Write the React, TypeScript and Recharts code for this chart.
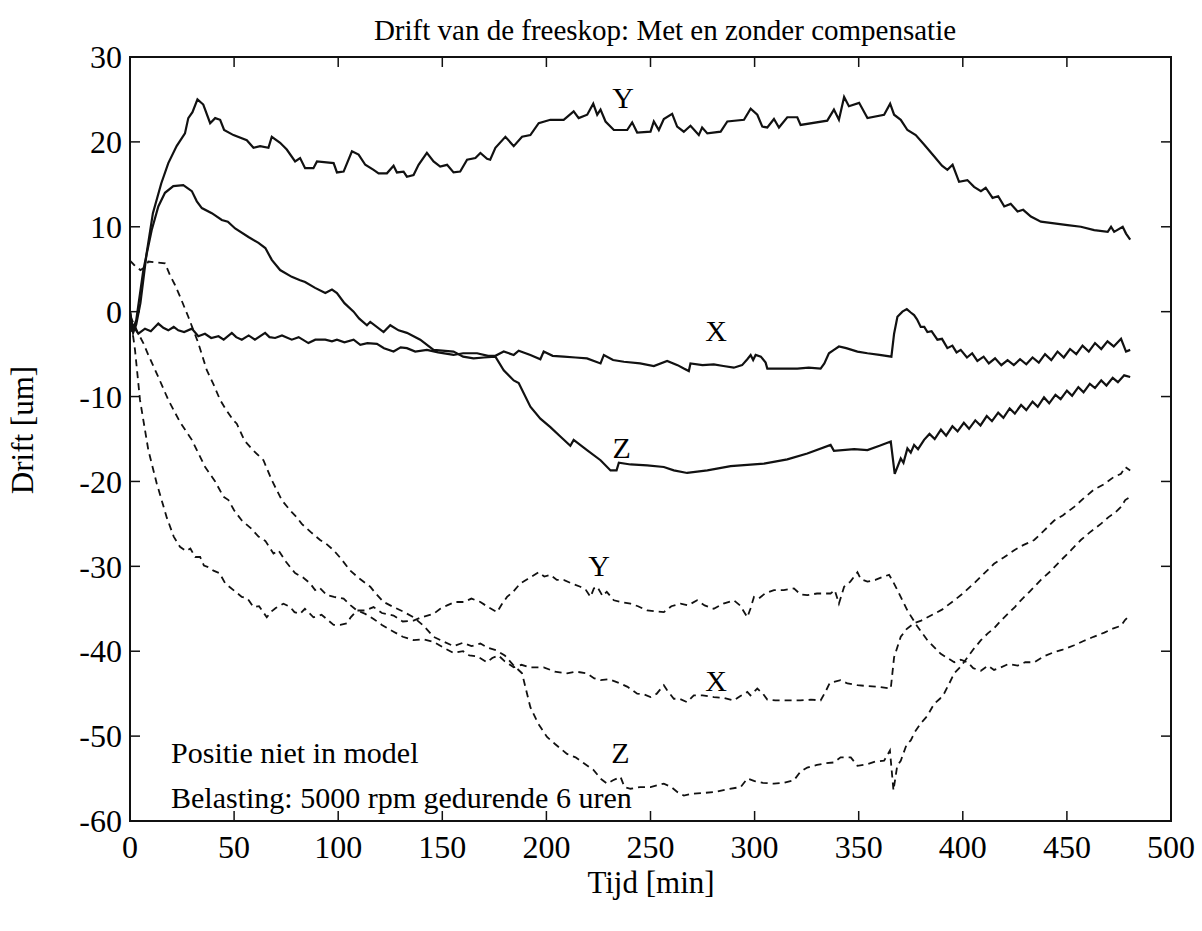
import { LineChart, Line, XAxis, YAxis, ReferenceArea, ReferenceDot } from "recharts";

// tick values
const timeTicks = [0, 50, 100, 150, 200, 250, 300, 350, 400, 450, 500];
const driftTicks = [-60, -50, -40, -30, -20, -10, 0, 10, 20, 30];

// [time (min), drift (um)]
// zonder compensatie (solid)
const solidY: [number, number][] = [
  [0, -0.5], [1.5, -2.5], [3, -1.5], [5, 1.0], [8, 6.9], [11, 11.6], [15, 15.1], [18.4, 17.5],
  [22.4, 19.5], [26.4, 21.0], [28, 22.8], [30, 23.5], [32.4, 25.0], [35.2, 24.4], [38.5, 22.2],
  [40.9, 22.8], [43.3, 22.6], [45.2, 21.4], [49.7, 20.8], [56.1, 20.2], [59.3, 19.3], [62.5, 19.5],
  [66.5, 19.3], [68.1, 20.6], [72.1, 19.9], [75.3, 19.1], [79.3, 17.7], [81.7, 18.1], [84.1, 16.9],
  [88.1, 16.9], [89.8, 17.7], [97.8, 17.5], [99.4, 16.4], [102.6, 16.5], [106.6, 18.9], [109.8, 18.5],
  [113, 17.3], [117, 16.7], [119.4, 16.3], [123.4, 16.3], [126.6, 17.2], [128.2, 16.4], [131.4, 16.5],
  [133, 15.9], [136.2, 16.1], [138.6, 17.3], [142.6, 18.7], [145.8, 17.7], [149, 17.1], [152.3, 17.3],
  [155.4, 16.4], [158.6, 16.5], [161.9, 17.9], [165.9, 18.1], [168.3, 18.7], [171.5, 18.0], [173, 17.9],
  [175.5, 19.3], [180.3, 20.6], [184.3, 19.5], [188.3, 20.6], [192.3, 20.8], [196.3, 22.2], [201.9, 22.6],
  [208.3, 22.6], [213.1, 23.6], [215.5, 22.8], [219.6, 23.2], [222.5, 24.5], [224.4, 23.2], [226, 23.8],
  [228.4, 22.4], [232.4, 21.4], [238.8, 21.4], [241.2, 22.3], [243.6, 21.1], [250, 21.2], [251.6, 22.4],
  [254, 21.4], [256.4, 22.7], [260.4, 23.3], [262.8, 21.8], [266, 21.2], [269.2, 21.9], [273.2, 20.8],
  [274.8, 21.7], [277.3, 21.0], [283.7, 21.2], [286.9, 22.4], [294.9, 22.6], [298.1, 23.9], [301.3, 23.2],
  [303.7, 21.8], [306.1, 21.7], [309.3, 22.7], [311.7, 21.7], [315.7, 22.9], [320.5, 22.9], [322.1, 22.0],
  [334.9, 22.5], [338.1, 23.8], [340.5, 22.6], [343, 25.3], [345.3, 24.2], [350.2, 24.6], [354.2, 22.8],
  [362.2, 23.2], [365.1, 24.5], [367, 23.2], [370.2, 22.6], [373.4, 21.4], [377.4, 20.8], [381.4, 19.7],
  [386.2, 18.3], [390, 17.2], [392.6, 16.7], [395.1, 17.3], [398.2, 15.3], [402.2, 15.5], [405.4, 14.7],
  [408.7, 14.2], [411, 14.6], [414.3, 13.4], [417, 13.6], [419.9, 12.4], [423, 12.7], [426.3, 11.8],
  [429, 12.0], [432.7, 11.2], [437.5, 10.6], [443.9, 10.4], [450.3, 10.2], [456.7, 10.0], [463.1, 9.6],
  [469.6, 9.4], [471.2, 10.0], [472.7, 9.4], [476.8, 10.0], [478.4, 9.2], [480.4, 8.5],
];

const solidX: [number, number][] = [
  [0, 0], [1, -2.2], [2.4, -2.0], [4, -2.6], [7.2, -2.0], [10, -2.3], [13.6, -1.4], [16, -1.9],
  [18.4, -2.2], [21, -1.8], [23.2, -2.2], [26, -2.4], [29.7, -2.0], [32.8, -2.9], [36, -2.6], [39, -3.1],
  [42.5, -2.9], [45, -3.3], [48.9, -2.5], [51, -3.0], [53.7, -3.3], [57, -2.8], [60, -3.3], [64.9, -2.5],
  [67, -3.0], [69.7, -3.1], [73, -2.8], [77.7, -3.3], [81, -3.0], [85.7, -3.7], [89, -3.3], [93.8, -3.3],
  [97, -3.5], [99.4, -3.3], [103, -3.6], [107.4, -3.3], [110.6, -3.9], [114, -3.7], [118.6, -3.8],
  [122, -4.3], [126.6, -4.7], [130, -4.2], [133, -4.3], [137, -4.7], [142.6, -4.5], [148, -4.8],
  [155.4, -5.1], [160, -4.9], [166.7, -4.9], [172, -5.2], [175.5, -5.2], [179.5, -4.7], [184.3, -5.1],
  [186.7, -4.6], [192.3, -5.1], [197.1, -5.6], [198.7, -4.7], [203, -5.2], [208.3, -5.3], [214, -5.4],
  [219.5, -5.5], [226, -6.1], [227.6, -5.1], [232, -5.7], [237.2, -5.9], [245, -6.1], [251.6, -6.4],
  [258, -5.8], [263, -6.3], [266, -6.7], [268.4, -7.0], [269.2, -6.1], [275, -6.3], [280.4, -6.2],
  [285, -6.4], [290, -6.6], [294, -6.3], [296.5, -5.6], [298.1, -5.1], [299.3, -5.7], [300.5, -5.1],
  [303, -5.3], [305.3, -6.0], [306.1, -6.7], [312, -6.7], [320.5, -6.7], [326, -6.6], [331.7, -6.7],
  [333.5, -6.1], [335.7, -4.9], [338.1, -4.5], [340.5, -4.1], [344, -4.3], [349.4, -4.7], [354.2, -4.9],
  [360, -5.1], [365.7, -5.3], [367, -2.6], [368.6, -0.6], [371, 0.0], [373.1, 0.3], [375, -0.1],
  [376.6, -0.4], [378, -0.9], [379.8, -1.8], [381.5, -1.8], [383, -2.4], [385, -2.3], [387.8, -3.3],
  [390, -3.2], [392.6, -4.3], [395, -4.0], [397, -4.8], [399, -4.5], [402, -5.4], [404.5, -4.9],
  [407, -5.8], [410, -5.3], [412.5, -6.1], [415.5, -5.5], [418.5, -6.3], [421.5, -5.7], [424.5, -6.3],
  [427.5, -5.6], [430.5, -6.2], [433.5, -5.4], [436.5, -6.0], [439.5, -5.0], [442.5, -5.7], [445.5, -4.7],
  [448.5, -5.4], [451.5, -4.4], [454.5, -5.0], [457.5, -4.0], [460.5, -4.7], [463.5, -3.7], [466.5, -4.4],
  [469.5, -3.5], [472.5, -4.1], [476, -3.2], [478.4, -4.7], [480.4, -4.5],
];

const solidZ: [number, number][] = [
  [0, 0], [1.5, -2], [3, -1], [6.4, 4.9], [10.4, 9.6], [13.6, 12.4], [16.8, 14.0], [20.8, 14.8],
  [25.6, 14.9], [29.7, 14.2], [32.1, 13.0], [34.5, 12.2], [39.3, 11.6], [44.1, 10.8], [47, 10.6],
  [50.5, 9.8], [56.9, 8.8], [61.7, 8.1], [65, 7.5], [68.1, 6.1], [72.1, 4.9], [77.7, 4.1], [81.7, 3.7],
  [84.1, 3.5], [88.9, 2.8], [93.8, 2.2], [97, 2.6], [99.4, 2.2], [103, 1.0], [107.4, 0], [110, -0.8],
  [113.8, -1.6], [115.4, -1.2], [121.8, -2.4], [125, -1.6], [129, -2.2], [133, -2.5], [139.4, -3.3],
  [145.8, -4.5], [150, -4.6], [155.4, -4.7], [160, -5.3], [165, -5.5], [170, -5.4], [175.5, -5.3],
  [179.5, -6.9], [184.3, -8.1], [186.7, -8.4], [192.3, -11.2], [197.1, -12.6], [201.9, -13.6],
  [206.7, -14.7], [211.5, -15.8], [213.1, -15.1], [219.5, -16.3], [226, -17.5], [230.8, -18.7],
  [233.7, -18.7], [234.8, -17.8], [240.4, -18.0], [248.4, -18.1], [256.4, -18.3], [261.2, -18.7],
  [267.6, -19.0], [277.3, -18.7], [288.5, -18.2], [304.5, -17.9], [315.7, -17.4], [325.3, -16.7],
  [336.5, -15.7], [338.1, -16.4], [347.8, -16.2], [354.2, -16.3], [360, -15.8], [365.4, -15.3],
  [367.3, -19.1], [370.2, -17.3], [371.5, -17.8], [373.4, -16.1], [375, -16.6], [376.6, -15.7],
  [378.5, -16.2], [381.4, -15.1], [384, -14.4], [386.5, -15.0], [389.5, -13.9], [392, -14.6],
  [395, -13.5], [397.5, -14.1], [400.5, -13.1], [403, -13.8], [406, -12.8], [408.5, -13.4],
  [411.5, -12.3], [414, -12.9], [417, -11.9], [419.5, -12.5], [422.5, -11.4], [425, -12.0],
  [428, -11.0], [430.5, -11.6], [433.5, -10.6], [436, -11.2], [439, -10.1], [441.5, -10.8],
  [444.5, -9.8], [447, -10.3], [450, -9.3], [452.5, -9.9], [455.5, -8.9], [458, -9.5], [461, -8.5],
  [463.5, -9.0], [466.5, -8.1], [469, -8.7], [472, -7.8], [474.5, -8.3], [477.5, -7.5], [480.4, -7.7],
];

// met compensatie (dashed)
const dashedY: [number, number][] = [
  [0, 0], [1, -2], [2.4, -4.5], [4.8, -10.4], [8.8, -16.3], [12.8, -20.2], [17.6, -24.2], [21, -26.5],
  [24, -27.7], [27, -28.2], [29, -27.9], [31.3, -28.9], [33.7, -28.9], [35.5, -29.9], [37.6, -30.1],
  [40.1, -30.5], [43, -30.8], [45.7, -32.0], [49.7, -32.8], [53.7, -33.6], [56.5, -33.8], [59.3, -34.8],
  [62, -34.7], [65.7, -36.0], [68, -35.3], [70, -34.9], [73.7, -34.4], [77, -34.8], [79, -35.4],
  [81.7, -35.6], [84, -35.0], [88.1, -36.0], [92, -35.7], [97.8, -36.9], [101, -36.9], [104.2, -36.7],
  [106, -36.0], [109, -35.2], [113, -35.2], [117, -34.8], [121, -35.5], [126.6, -35.8], [131, -36.5],
  [136.2, -36.4], [140, -36.0], [145.8, -35.6], [149, -35.0], [152.3, -34.6], [156, -34.2],
  [160.3, -34.2], [164, -33.8], [168.3, -34.2], [172, -34.8], [176.3, -35.4], [178.5, -34.5],
  [181.1, -33.6], [184, -33.0], [187.5, -32.0], [191, -31.5], [196.3, -30.7], [199, -31.2],
  [201.9, -31.0], [205, -31.6], [208.3, -31.6], [212, -32.0], [216.3, -32.4], [219, -32.8],
  [221.2, -33.6], [222.8, -32.6], [224.4, -32.4], [227, -33.5], [229, -33.0], [232.4, -34.0],
  [236, -34.2], [240.4, -34.4], [244, -34.7], [248.4, -35.2], [252, -35.3], [256.4, -35.4], [260, -34.7],
  [264.4, -34.4], [268, -34.6], [272.4, -34.0], [276, -34.6], [280.4, -35.0], [285, -34.4], [290, -34.0],
  [293, -34.6], [296.5, -36.0], [298, -35.0], [299.7, -33.6], [302, -33.8], [305, -33.2], [309.3, -32.8],
  [314, -32.8], [318.9, -32.6], [322, -33.3], [325.3, -33.4], [330, -33.2], [336.5, -33.2],
  [338.5, -32.8], [340.5, -34.4], [343, -32.4], [346, -31.8], [349.4, -30.7], [351, -31.5],
  [354.2, -31.8], [358, -31.6], [362, -31.2], [364.6, -31.0], [366.5, -31.8], [368.6, -32.8],
  [373.4, -35.2], [378.2, -37.1], [383, -38.7], [389.4, -40.3], [395.9, -41.3], [399, -41.0],
  [402.3, -41.3], [405, -42.0], [408.7, -42.3], [412, -41.7], [415, -42.2], [418.3, -41.9], [422, -41.5],
  [426.3, -41.7], [430, -41.3], [434.3, -41.3], [439, -40.6], [443.9, -40.1], [448, -39.8], [453.5, -39.3],
  [458, -38.8], [462.8, -38.3], [468, -37.8], [472.4, -37.3], [476, -37.0], [478, -36.3], [480, -35.8],
];

const dashedX: [number, number][] = [
  [0, -0.5], [2, -1.5], [3.8, -2.5], [6.4, -3.7], [8.8, -5.1], [13.6, -7.7], [18.4, -10.4], [24, -13.0],
  [29.7, -15.1], [33.7, -17.1], [36.1, -18.3], [40.9, -20.0], [44.9, -21.8], [47.3, -22.2], [50, -23.4],
  [53.7, -24.6], [58, -25.5], [61.7, -26.5], [65, -27.0], [68.9, -28.5], [71.3, -28.1], [75, -29.5],
  [79.3, -30.8], [83, -31.3], [86.5, -32.0], [88.9, -32.8], [91, -32.5], [94.6, -33.4], [98, -33.6],
  [102.6, -33.8], [106, -34.6], [109, -35.2], [113, -35.6], [117, -36.2], [121, -36.9], [126.6, -37.7],
  [131, -38.3], [136.2, -38.7], [141, -38.6], [145.8, -38.9], [150, -39.5], [155.4, -40.2], [160, -40.0],
  [163, -40.5], [166.7, -40.6], [171.5, -41.3], [174, -40.8], [177, -40.5], [180, -41.2], [184.3, -41.9],
  [188, -41.6], [192, -41.9], [198.7, -41.9], [204, -42.4], [209.9, -42.6], [214, -42.4], [219.5, -42.6],
  [223, -43.2], [226, -43.4], [230, -43.3], [235.6, -43.8], [239, -44.2], [243.6, -45.0], [247, -45.1],
  [250, -45.4], [253, -45.0], [256.4, -44.0], [258, -44.6], [261.2, -45.6], [264, -45.6], [267.6, -46.0],
  [270.8, -45.2], [275, -45.2], [280.4, -45.4], [285, -45.5], [290, -45.8], [293, -45.3], [296.5, -44.8],
  [298, -45.2], [301.3, -44.4], [304, -45.0], [306.1, -45.7], [310, -45.8], [315.7, -45.8], [322, -45.8],
  [327, -45.7], [331.7, -45.8], [334, -44.8], [336, -43.8], [338.1, -43.6], [341.3, -43.4], [344.6, -43.8],
  [349.4, -44.0], [354, -44.1], [360, -44.2], [365.4, -44.4], [367, -40.7], [370.2, -38.3], [373, -37.4],
  [376.6, -36.7], [380, -36.4], [386.2, -35.6], [390, -35.1], [395.9, -34.0], [400, -33.2], [405.4, -32.0],
  [410, -30.9], [415, -29.7], [420, -28.9], [424.7, -28.1], [429, -27.5], [434.3, -26.9], [439, -25.8],
  [443.9, -24.6], [448, -24.0], [453.5, -23.0], [458, -22.0], [462.8, -21.0], [468, -20.3], [472.4, -19.5],
  [476, -19.1], [478, -18.3], [480.4, -18.7],
];

const dashedZ: [number, number][] = [
  [0, 6.0], [2, 5.5], [5, 4.9], [7, 5.2], [8.8, 5.9], [12, 5.8], [16.8, 5.7], [19.2, 4.3], [21.5, 3.2],
  [24, 1.8], [28, -0.6], [32.8, -3.7], [36.9, -6.9], [40, -8.5], [43.3, -10.4], [46, -11.5], [49.7, -12.8],
  [51.3, -13.2], [55, -15.2], [59, -16.3], [64.1, -17.5], [68, -19.8], [72.9, -22.2], [76.9, -23.4],
  [80, -24.2], [82.5, -25.0], [87, -26.0], [91.3, -26.9], [94, -27.3], [97.8, -28.1], [101, -29.0],
  [105.8, -30.5], [110, -31.4], [115.4, -32.4], [118, -33.2], [121.8, -34.2], [126.6, -34.8],
  [131, -35.3], [136.2, -36.0], [141, -37.0], [145.8, -38.3], [150, -38.8], [155.4, -39.4], [160, -39.0],
  [164, -39.4], [168.3, -39.1], [172, -39.6], [176, -39.9], [180, -40.5], [184, -41.6], [188.3, -42.6],
  [190.5, -44.8], [192.3, -46.6], [196, -48.5], [200.3, -50.1], [204, -50.9], [209.9, -52.1],
  [214, -52.5], [218, -53.2], [222.7, -54.0], [226, -55.0], [229.2, -55.6], [232, -55.2], [235.6, -54.8],
  [237.5, -56.0], [240.4, -56.2], [245, -56.0], [250, -56.0], [256.4, -55.6], [260, -56.0], [263, -56.6],
  [266, -57.0], [270, -56.8], [275, -56.7], [280.4, -56.6], [286, -56.3], [293.3, -56.0], [296.5, -55.0],
  [300, -55.3], [304, -55.5], [309.3, -55.6], [314, -55.5], [318.9, -55.2], [322, -54.2], [325.3, -53.7],
  [330, -53.4], [334, -53.2], [338.1, -53.1], [341.3, -52.5], [346.2, -52.5], [349.4, -53.5],
  [354.2, -53.3], [358, -53.0], [362.2, -52.9], [365, -51.7], [366.7, -56.4], [368.5, -53.5],
  [370.2, -52.9], [373, -51.0], [375, -50.5], [377, -49.5], [379.8, -48.5], [383, -47.6], [386.2, -46.2],
  [389, -45.6], [391, -45.0], [393.5, -43.8], [395.9, -42.6], [399, -41.8], [402.3, -40.7], [405, -39.8],
  [408.7, -38.7], [412, -37.9], [415, -37.3], [418.3, -36.4], [422, -35.5], [425, -34.8], [427.9, -34.0],
  [432, -33.0], [437.5, -31.6], [442, -30.6], [447.1, -29.3], [452, -28.1], [456.7, -26.9], [461, -26.0],
  [466.3, -25.0], [470, -24.2], [473, -23.7], [476, -23.0], [478, -22.2], [480.4, -21.8],
];

// curve letters and notes, in data coordinates
const curveLabels = [
  { text: "Y", t: 236.8, v: 25.2 },
  { text: "X", t: 281.5, v: -2.2 },
  { text: "Z", t: 236.1, v: -16.0 },
  { text: "Y", t: 225.3, v: -29.9 },
  { text: "X", t: 281.5, v: -43.4 },
  { text: "Z", t: 235.6, v: -51.9 },
];
const notes = [
  { text: "Positie niet in model", t: 17.3, v: -51.9 },
  { text: "Belasting: 5000 rpm gedurende 6 uren", t: 17.3, v: -57.2 },
];

const series = [
  { id: "solidY", points: solidY, dashed: false },
  { id: "solidX", points: solidX, dashed: false },
  { id: "solidZ", points: solidZ, dashed: false },
  { id: "dashedY", points: dashedY, dashed: true },
  { id: "dashedX", points: dashedX, dashed: true },
  { id: "dashedZ", points: dashedZ, dashed: true },
];

const FONT = "'Liberation Serif', 'Times New Roman', Times, serif";
const INK = "#111";
const PLOT_TOP = 57;
const PLOT_RIGHT = 1171;
const TICK_LEN = 10;

function TimeTick(props: any) {
  const { x, y, payload } = props;
  return (
    <g>
      <line x1={x} x2={x} y1={y} y2={y - TICK_LEN} stroke={INK} strokeWidth={1.5} />
      <line x1={x} x2={x} y1={PLOT_TOP} y2={PLOT_TOP + TICK_LEN} stroke={INK} strokeWidth={1.5} />
      <text x={x} y={y + 37} textAnchor="middle" fontSize={32} fill="#000" fontFamily={FONT}>
        {payload.value}
      </text>
    </g>
  );
}

function DriftTick(props: any) {
  const { x, y, payload } = props;
  return (
    <g>
      <line x1={x} x2={x + TICK_LEN} y1={y} y2={y} stroke={INK} strokeWidth={1.5} />
      <line x1={PLOT_RIGHT - TICK_LEN} x2={PLOT_RIGHT} y1={y} y2={y} stroke={INK} strokeWidth={1.5} />
      <text x={x - 8} y={y} dy="0.35em" textAnchor="end" fontSize={32} fill="#000" fontFamily={FONT}>
        {payload.value}
      </text>
    </g>
  );
}

export default function App() {
  return (
    <div
      style={{
        position: "absolute",
        left: 0,
        top: 0,
        width: 1202,
        height: 931,
        background: "#fff",
        fontFamily: FONT,
        color: "#000",
      }}
    >
      <div
        style={{
          position: "absolute",
          left: 315,
          top: 16,
          width: 700,
          textAlign: "center",
          fontSize: 29,
          lineHeight: "29px",
        }}
      >
        Drift van de freeskop: Met en zonder compensatie
      </div>
      <div
        style={{
          position: "absolute",
          left: 501,
          top: 867,
          width: 300,
          textAlign: "center",
          fontSize: 31,
          lineHeight: "31px",
        }}
      >
        Tijd [min]
      </div>
      <div
        style={{
          position: "absolute",
          left: 23 - 100,
          top: 430 - 16,
          width: 200,
          height: 32,
          lineHeight: "32px",
          textAlign: "center",
          fontSize: 31,
          transform: "rotate(-90deg)",
        }}
      >
        Drift [um]
      </div>

      <LineChart width={1202} height={931} margin={{ top: 57, right: 31, bottom: 0, left: 0 }}>
        <XAxis
          type="number"
          dataKey="t"
          domain={[0, 500]}
          ticks={timeTicks}
          interval={0}
          height={110}
          axisLine={false}
          tickLine={false}
          tickSize={0}
          tickMargin={0}
          tick={TimeTick}
          allowDataOverflow
        />
        <YAxis
          type="number"
          dataKey="v"
          domain={[-60, 30]}
          ticks={driftTicks}
          interval={0}
          width={130}
          axisLine={false}
          tickLine={false}
          tickSize={0}
          tickMargin={0}
          tick={DriftTick}
          allowDataOverflow
        />
        <ReferenceArea x1={0} x2={500} y1={-60} y2={30} fill="none" fillOpacity={0} stroke={INK} strokeWidth={2} />
        {series.map((s) => (
          <Line
            key={s.id}
            data={s.points.map(([t, v]) => ({ t, v }))}
            dataKey="v"
            type="linear"
            stroke={INK}
            strokeWidth={s.dashed ? 1.8 : 2.2}
            strokeDasharray={s.dashed ? "7 5" : undefined}
            dot={false}
            activeDot={false}
            isAnimationActive={false}
          />
        ))}
        {curveLabels.map((l, i) => (
          <ReferenceDot
            key={"c" + i}
            x={l.t}
            y={l.v}
            r={0}
            fill="none"
            stroke="none"
            label={{ value: l.text, position: "center", fontSize: 30, fill: "#000", fontFamily: FONT }}
          />
        ))}
        {notes.map((n, i) => (
          <ReferenceDot
            key={"n" + i}
            x={n.t}
            y={n.v}
            r={0}
            fill="none"
            stroke="none"
            label={{ value: n.text, position: "right", offset: 5, fontSize: 30, fill: "#000", fontFamily: FONT }}
          />
        ))}
      </LineChart>
    </div>
  );
}
